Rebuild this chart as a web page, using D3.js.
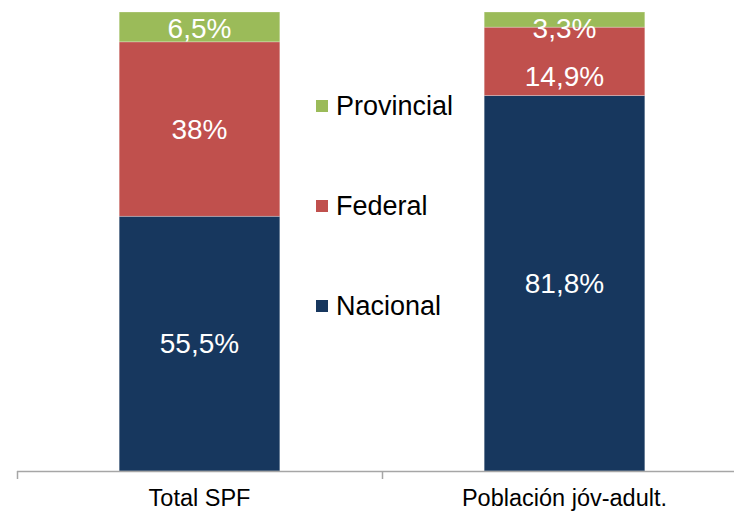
<!DOCTYPE html>
<html><head><meta charset="utf-8">
<script src="https://cdn.jsdelivr.net/npm/d3@7"></script>
<style>body{margin:0;background:#fff}svg{display:block}svg text{font-family:'Liberation Sans',Arimo,Arial,Helvetica,sans-serif}</style>
</head><body>
<svg id="c" width="734" height="511"></svg>
<script>
const categories = ["Total SPF", "Población jóv-adult."];
const seriesNames = ["Nacional", "Federal", "Provincial"];
const nacional = [55.5, 81.8];
const federal = [38, 14.9];
const provincial = [6.5, 3.3];
const labelText = {
  Nacional: ["55,5%", "81,8%"],
  Federal: ["38%", "14,9%"],
  Provincial: ["6,5%", "3,3%"]
};
const colors = {Nacional: "#17375E", Federal: "#C0504D", Provincial: "#9BBB59"};

(function () {
const svg = d3.select("#c");
const mLeft = 17, mRight = 747, mTop = 12, mBottom = 471;
const FF = "'Liberation Sans', Arimo, Arial, Helvetica, sans-serif";

const x = d3.scaleBand().domain(categories).range([mLeft, mRight]).paddingInner(0).paddingOuter(0);
const y = d3.scaleLinear().domain([0, 100]).range([mBottom, mTop]);
const bw = x.bandwidth() * 0.44;

const rows = categories.map((c, i) => ({cat: c, Nacional: nacional[i], Federal: federal[i], Provincial: provincial[i]}));
const stack = d3.stack().keys(seriesNames)(rows);

const g = svg.append("g");
stack.forEach(layer => {
  g.selectAll(null).data(layer).join("rect")
    .attr("x", d => x(d.data.cat) + (x.bandwidth() - bw) / 2)
    .attr("width", bw)
    .attr("y", d => y(d[1]))
    .attr("height", d => y(d[0]) - y(d[1]))
    .attr("fill", colors[layer.key])
    .attr("stroke", "rgba(255,255,255,0.35)")
    .attr("stroke-width", 0.75);
});

categories.forEach((c, i) => {
  const items = stack.map(layer => ({key: layer.key, d: layer[i]}))
    .map(o => ({key: o.key, cy: (y(o.d[0]) + y(o.d[1])) / 2}))
    .sort((a, b) => a.cy - b.cy);
  items.forEach((it, k) => {
    if (k === 0) it.cy = Math.max(it.cy, mTop + 16);
    else it.cy = Math.max(it.cy, items[k - 1].cy + 48);
  });
  items.forEach(it => {
    g.append("text")
      .attr("x", x(c) + x.bandwidth() / 2)
      .attr("y", it.cy)
      .attr("dy", "0.35em")
      .attr("text-anchor", "middle")
      .attr("fill", "#fff")
      .attr("font-family", FF)
      .attr("font-size", 28)
      .text(labelText[it.key][i]);
  });
});

const ax = svg.append("g");
ax.append("line").attr("x1", mLeft).attr("x2", mRight).attr("y1", mBottom + 0.5).attr("y2", mBottom + 0.5)
  .attr("stroke", "#A6A6A6").attr("stroke-width", 1.5);
const tickPos = categories.map(c => x(c)).concat([mRight]);
ax.selectAll(null).data(tickPos).join("line")
  .attr("x1", d => d + 0.5).attr("x2", d => d + 0.5)
  .attr("y1", mBottom).attr("y2", mBottom + 8)
  .attr("stroke", "#A6A6A6").attr("stroke-width", 1.5);
ax.selectAll(null).data(categories).join("text")
  .attr("x", d => x(d) + x.bandwidth() / 2)
  .attr("y", 506)
  .attr("text-anchor", "middle")
  .attr("font-family", FF)
  .attr("font-size", 23.5)
  .attr("fill", "#000")
  .text(d => d);

const legendOrder = ["Provincial", "Federal", "Nacional"];
const lg = svg.append("g").attr("transform", "translate(316,115)");
legendOrder.forEach((k, i) => {
  const row = lg.append("g").attr("transform", `translate(0,${i * 100})`);
  row.append("rect").attr("x", 0).attr("y", -15).attr("width", 12).attr("height", 12).attr("fill", colors[k]);
  row.append("text").attr("x", 20).attr("y", 0).attr("font-family", FF).attr("font-size", 27).attr("fill", "#000").text(k);
});
})();
</script>
</body></html>
